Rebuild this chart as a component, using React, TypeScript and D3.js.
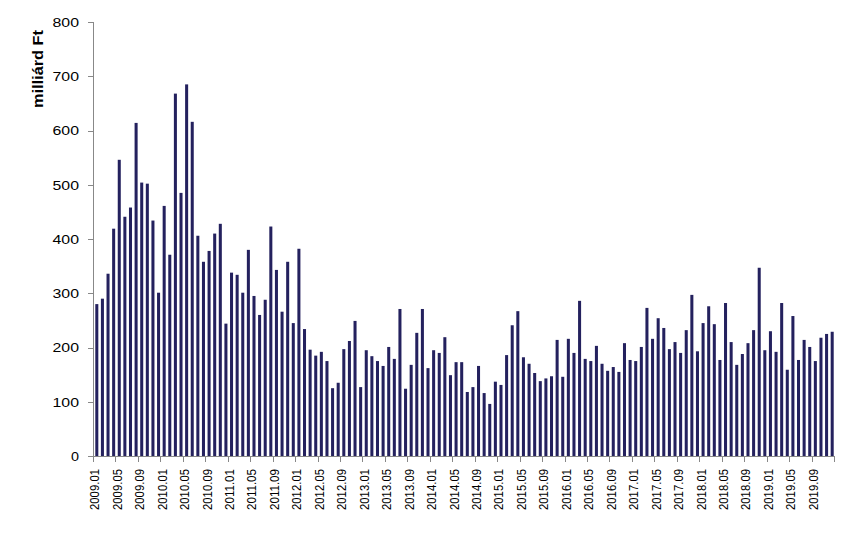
import React from "react";
import * as d3 from "d3";

const years = [2009, 2010, 2011, 2012, 2013, 2014, 2015, 2016, 2017, 2018, 2019];
const v2009 = [280, 290, 336, 419, 546, 441, 458, 614, 504, 502, 434, 301];
const v2010 = [461, 371, 668, 485, 685, 616, 406, 358, 378, 410, 428, 244];
const v2011 = [338, 334, 301, 380, 295, 260, 288, 423, 343, 266, 358, 245];
const v2012 = [382, 234, 196, 185, 192, 175, 125, 135, 197, 212, 249, 127];
const v2013 = [195, 184, 175, 166, 201, 179, 271, 124, 168, 227, 271, 162];
const v2014 = [195, 190, 219, 149, 173, 173, 118, 127, 166, 116, 96, 137];
const v2015 = [131, 186, 241, 267, 182, 170, 153, 138, 143, 147, 214, 146];
const v2016 = [216, 190, 286, 179, 175, 203, 170, 157, 164, 155, 208, 177];
const v2017 = [175, 201, 273, 216, 254, 236, 197, 210, 190, 232, 297, 193];
const v2018 = [245, 276, 243, 177, 282, 210, 168, 188, 208, 232, 347, 195];
const v2019 = [230, 192, 282, 159, 258, 177, 214, 201, 175, 218, 225, 229];
const yearValues = [v2009, v2010, v2011, v2012, v2013, v2014, v2015, v2016, v2017, v2018, v2019];
const yTicks = [0, 100, 200, 300, 400, 500, 600, 700, 800];
const yTitle = "milliárd Ft";

const data = years.flatMap((y, yi) =>
  yearValues[yi].map((v, m) => ({ label: `${y}.${String(m + 1).padStart(2, "0")}`, value: v }))
);

export default function App() {
  const W = 858, H = 541;
  const x0 = 94, x1 = 835, yTop = 22, yBot = 456;
  const x = d3.scaleBand<string>().domain(data.map(d => d.label)).range([x0, x1]).paddingInner(0.46).paddingOuter(0.23);
  const y = d3.scaleLinear().domain([0, 800]).range([yBot, yTop]);
  const step = x.step();
  const axisColor = "#888888";
  const barColor = "#24215e";
  const font = "'Liberation Sans', Arial, sans-serif";
  const tickIdx = data.map((_, i) => i).filter(i => i % 4 === 0);

  return (
    <svg width={W} height={H} style={{ position: "absolute", left: 0, top: 0, background: "#fff" }}>
      <rect x={0} y={0} width={W} height={H} fill="#fff" />
      {data.map(d => (
        <rect key={d.label} x={x(d.label)} y={y(d.value)} width={x.bandwidth()} height={yBot - y(d.value)} fill={barColor} />
      ))}
      {/* y axis */}
      <line x1={x0 - 0.5} x2={x0 - 0.5} y1={yTop} y2={yBot} stroke={axisColor} strokeWidth={1} />
      {yTicks.map(t => (
        <g key={t}>
          <line x1={x0 - 6} x2={x0} y1={Math.round(y(t)) + 0.5} y2={Math.round(y(t)) + 0.5} stroke={axisColor} />
          <text x={79} y={y(t) + 4.8} textAnchor="end" fontFamily={font} fontSize={13} textLength={t === 0 ? 8 : 26.5} lengthAdjust="spacingAndGlyphs" fill="#000">
            {t}
          </text>
        </g>
      ))}
      {/* x axis */}
      <line x1={x0 - 0.5} x2={x1} y1={yBot + 0.5} y2={yBot + 0.5} stroke={axisColor} />
      {tickIdx.map(i => {
        const tx = x0 + i * step;
        return <line key={"t" + i} x1={Math.round(tx) - 0.5} x2={Math.round(tx) - 0.5} y1={yBot} y2={yBot + 6} stroke={axisColor} />;
      })}
      <line x1={x1 - 0.5} x2={x1 - 0.5} y1={yBot} y2={yBot + 6} stroke={axisColor} />
      {tickIdx.map(i => {
        const d = data[i];
        const cx = (x(d.label) as number) + x.bandwidth() / 2;
        return (
          <text key={"l" + i} transform={`translate(${cx + 2.5},${469}) rotate(-90)`} textAnchor="end" fontFamily={font} fontSize={12.5} textLength={41} lengthAdjust="spacingAndGlyphs" fill="#000">
            {d.label}
          </text>
        );
      })}
      <text transform={`translate(43,69) rotate(-90)`} textAnchor="middle" fontFamily={font} fontSize={15} fontWeight="bold" textLength={78} lengthAdjust="spacingAndGlyphs" fill="#000">
        {yTitle}
      </text>
    </svg>
  );
}
